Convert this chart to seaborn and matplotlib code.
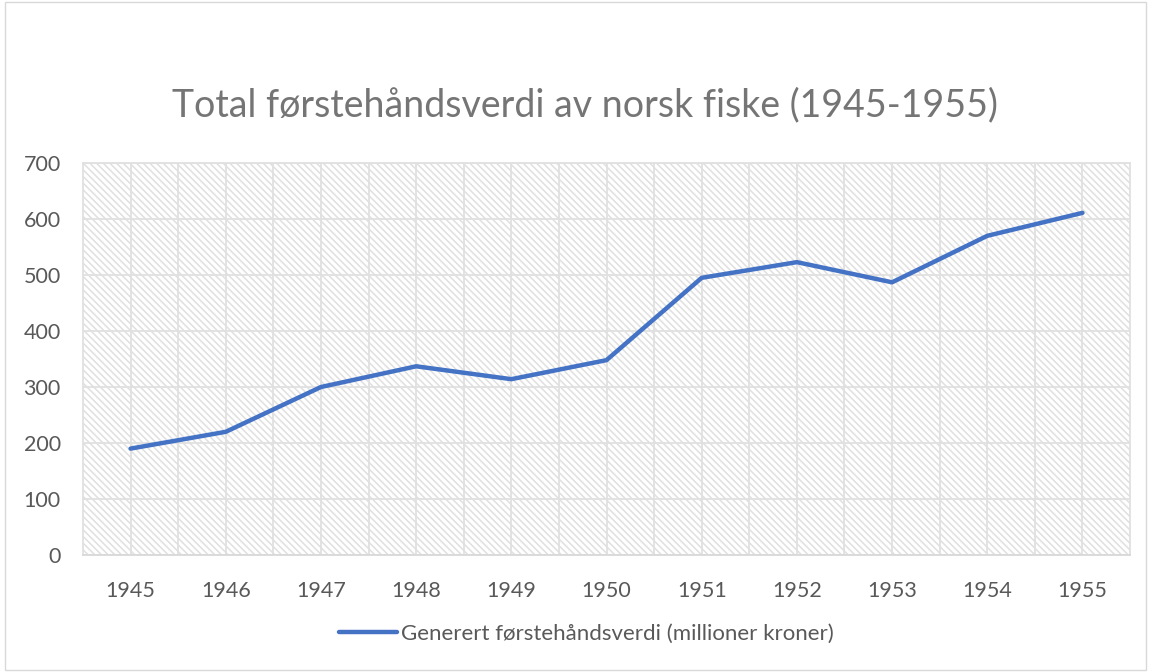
import pandas as pd
import matplotlib
matplotlib.use("Agg")
import matplotlib.pyplot as plt
import seaborn as sns
from matplotlib.patches import Rectangle

# Data
aar = [1945, 1946, 1947, 1948, 1949, 1950, 1951, 1952, 1953, 1954, 1955]
verdi = [190, 220, 300, 337, 314, 348, 495, 523, 487, 570, 611]
serie = "Generert førstehåndsverdi (millioner kroner)"
tittel = "Total førstehåndsverdi av norsk fiske (1945-1955)"

df = pd.DataFrame({"aar": aar, "verdi": verdi})

sns.set_style("white")
plt.rcParams["font.family"] = ["Lato", "DejaVu Sans"]
plt.rcParams["hatch.color"] = "#e0e0e0"
plt.rcParams["hatch.linewidth"] = 1.1

fig = plt.figure(figsize=(11.51, 6.72), dpi=100)
ax = fig.add_axes([0.0721, 0.1741, 0.9097, 0.5833])

# Hatched plot area background
ax.add_patch(Rectangle((0, 0), 1, 1, transform=ax.transAxes, facecolor="white",
                       edgecolor="#e0e0e0", hatch="\\\\\\\\\\", lw=0, zorder=0))

sns.lineplot(data=df, x="aar", y="verdi", ax=ax, color="#4472c4", linewidth=3.2,
             label=serie, zorder=3)

ax.set_xlim(aar[0] - 0.5, aar[-1] + 0.5)
ax.set_ylim(0, 700)
ax.set_xticks(aar)
ax.set_xticks([a + 0.5 for a in aar[:-1]], minor=True)
ax.set_yticks(range(0, 701, 100))
ax.grid(True, which="both", color="#e0e0e0", linewidth=1.3, zorder=1)
ax.set_axisbelow(True)
for s in ax.spines.values():
    s.set_color("#e0e0e0")
    s.set_linewidth(1.3)
ax.spines["bottom"].set_color("#d9d9d9")

ax.tick_params(axis="both", which="both", length=0, labelsize=15.5, colors="#595959")
ax.tick_params(axis="x", pad=19)
ax.tick_params(axis="y", pad=16)
ax.set_xlabel("")
ax.set_ylabel("")

fig.text(0.508, 0.843, tittel, ha="center", va="center", fontsize=27, color="#757575")

leg = ax.legend(loc="center", bbox_to_anchor=(0.481, -0.2), frameon=False,
                fontsize=16, handlelength=2.6, handletextpad=0.2)
for t in leg.get_texts():
    t.set_color("#595959")

fig.add_artist(Rectangle((0.004, 0.003), 0.992, 0.994, transform=fig.transFigure,
                         fill=False, edgecolor="#d9d9d9", lw=1))

fig.savefig("out.png", dpi=100)
